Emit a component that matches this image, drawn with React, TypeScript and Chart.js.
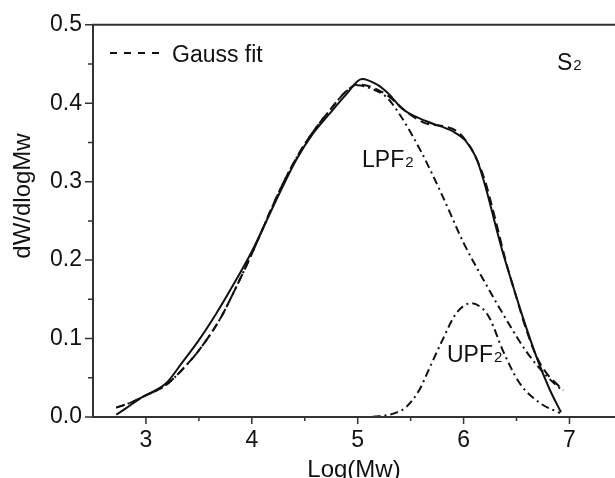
import React, { useEffect, useRef } from "react";
import { Chart, registerables } from "chart.js";

Chart.register(...registerables);

const FONT = '"Liberation Sans", Arial, Helvetica, sans-serif';
const INK = "#111";

// Experimental curve (solid)
const expX = [2.72, 2.8, 2.96, 3.19, 3.34, 3.5, 3.66, 3.81, 4.0, 4.26, 4.42, 4.57, 4.73, 4.89, 5.04, 5.18, 5.3, 5.42, 5.65, 5.9, 6.02, 6.12, 6.21, 6.31, 6.37, 6.46, 6.56, 6.69, 6.81, 6.92];
const expY = [0.003, 0.01, 0.025, 0.043, 0.069, 0.098, 0.131, 0.165, 0.211, 0.285, 0.328, 0.36, 0.386, 0.411, 0.431, 0.424, 0.411, 0.393, 0.377, 0.364, 0.352, 0.33, 0.292, 0.24, 0.21, 0.17, 0.127, 0.076, 0.036, 0.006];

// Gauss fit (dashed)
const fitX = [2.72, 2.85, 2.96, 3.19, 3.34, 3.5, 3.7, 3.85, 4.0, 4.26, 4.42, 4.57, 4.73, 4.89, 5.0, 5.1, 5.27, 5.49, 5.65, 5.8, 5.96, 6.1, 6.2, 6.3, 6.4, 6.5, 6.6, 6.7, 6.8, 6.88, 6.94];
const fitY = [0.012, 0.018, 0.025, 0.041, 0.06, 0.085, 0.125, 0.165, 0.208, 0.288, 0.33, 0.362, 0.39, 0.415, 0.424, 0.422, 0.411, 0.386, 0.374, 0.371, 0.362, 0.335, 0.302, 0.252, 0.198, 0.152, 0.108, 0.074, 0.053, 0.042, 0.034];

// LPF2 component (dash-dot)
const lpfX = [2.72, 2.85, 2.96, 3.19, 3.34, 3.5, 3.7, 3.85, 4.0, 4.26, 4.42, 4.57, 4.73, 4.89, 5.0, 5.1, 5.27, 5.4, 5.6, 5.8, 6.0, 6.2, 6.4, 6.6, 6.8, 6.94];
const lpfY = [0.012, 0.018, 0.025, 0.041, 0.06, 0.085, 0.125, 0.165, 0.208, 0.288, 0.33, 0.362, 0.39, 0.415, 0.423, 0.42, 0.408, 0.385, 0.338, 0.282, 0.222, 0.172, 0.125, 0.082, 0.05, 0.033];

// UPF2 component (dash-dot)
const upfX = [4.8, 5.0, 5.2, 5.35, 5.46, 5.58, 5.68, 5.8, 5.93, 6.07, 6.18, 6.25, 6.37, 6.53, 6.72, 6.91];
const upfY = [0.0, 0.0, 0.001, 0.005, 0.013, 0.034, 0.063, 0.098, 0.132, 0.145, 0.138, 0.125, 0.085, 0.043, 0.018, 0.005];

const xTicks = [3, 4, 5, 6, 7];
const xMinor = [3.5, 4.5, 5.5, 6.5];
const yTicks = [0, 0.1, 0.2, 0.3, 0.4, 0.5];
const yMinor = [0.05, 0.15, 0.25, 0.35, 0.45];

const xTitle = "Log(Mw)";
const yTitle = "dW/dlogMw";
const legendLabel = "Gauss fit";

const pts = (xs: number[], ys: number[]) => xs.map((x, i) => ({ x, y: ys[i] }));

const decorPlugin = {
  id: "decor",
  afterDatasetsDraw(chart: any) {
    const { ctx, chartArea, scales } = chart;
    const xs = scales.x;
    const ys = scales.y;
    const { left, top, right, bottom } = chartArea;
    ctx.save();
    // frame: left, top, bottom (right edge is cropped)
    ctx.strokeStyle = "#333";
    ctx.lineWidth = 2;
    ctx.setLineDash([]);
    ctx.beginPath();
    ctx.moveTo(right, top);
    ctx.lineTo(left, top);
    ctx.lineTo(left, bottom);
    ctx.lineTo(right, bottom);
    ctx.stroke();
    // ticks
    ctx.lineWidth = 1.5;
    ctx.beginPath();
    xTicks.forEach((v) => {
      const p = xs.getPixelForValue(v);
      ctx.moveTo(p, bottom);
      ctx.lineTo(p, bottom + 7);
    });
    xMinor.forEach((v) => {
      const p = xs.getPixelForValue(v);
      ctx.moveTo(p, bottom);
      ctx.lineTo(p, bottom + 4);
    });
    yTicks.forEach((v) => {
      const p = ys.getPixelForValue(v);
      ctx.moveTo(left, p);
      ctx.lineTo(left - 8, p);
    });
    yMinor.forEach((v) => {
      const p = ys.getPixelForValue(v);
      ctx.moveTo(left, p);
      ctx.lineTo(left - 5, p);
    });
    ctx.stroke();

    ctx.fillStyle = INK;
    // axis titles
    ctx.font = `24px ${FONT}`;
    ctx.textAlign = "center";
    ctx.textBaseline = "alphabetic";
    ctx.fillText(xTitle, (left + right) / 2, 477);
    ctx.save();
    ctx.translate(30, 196);
    ctx.rotate(-Math.PI / 2);
    ctx.fillText(yTitle, 0, 0);
    ctx.restore();

    // legend
    ctx.strokeStyle = INK;
    ctx.lineWidth = 2;
    ctx.setLineDash([7, 7]);
    ctx.beginPath();
    ctx.moveTo(110, 53);
    ctx.lineTo(166, 53);
    ctx.stroke();
    ctx.setLineDash([]);
    ctx.font = `23px ${FONT}`;
    ctx.textAlign = "left";
    ctx.fillText(legendLabel, 172, 62);

    // annotations with subscripts
    const sub = (main: string, s: string, x: number, y: number) => {
      ctx.font = `23px ${FONT}`;
      ctx.textAlign = "left";
      ctx.fillText(main, x, y);
      const w = ctx.measureText(main).width;
      ctx.font = `15px ${FONT}`;
      ctx.fillText(s, x + w + 1, y);
    };
    sub("LPF", "2", 362, 167);
    sub("UPF", "2", 447, 362);
    sub("S", "2", 557, 70);
    ctx.restore();
  },
};

export default function App() {
  const ref = useRef<HTMLCanvasElement | null>(null);
  useEffect(() => {
    if (!ref.current) return;
    const common = { pointRadius: 0, borderColor: INK, fill: false, showLine: true, cubicInterpolationMode: "monotone" as const };
    const chart = new Chart(ref.current, {
      type: "scatter",
      data: {
        datasets: [
          { label: "Experimental", data: pts(expX, expY), borderWidth: 2, ...common },
          { label: legendLabel, data: pts(fitX, fitY), borderWidth: 2, borderDash: [9, 5], ...common },
          { label: "LPF2", data: pts(lpfX, lpfY), borderWidth: 2, borderDash: [8, 4, 2, 4], ...common },
          { label: "UPF2", data: pts(upfX, upfY), borderWidth: 2, borderDash: [8, 4, 2, 4], ...common },
        ],
      },
      options: {
        animation: false,
        responsive: false,
        events: [],
        layout: { padding: { top: 23, left: 0, right: 0, bottom: 0 } },
        plugins: { legend: { display: false }, tooltip: { enabled: false }, title: { display: false } },
        scales: {
          x: {
            type: "linear",
            min: 2.5,
            max: 7.43,
            afterBuildTicks: (s: any) => { s.ticks = xTicks.map((v) => ({ value: v })); },
            afterFit: (s: any) => { s.height = 61; },
            grid: { display: false, drawTicks: false },
            border: { display: false },
            ticks: { font: { family: FONT, size: 23 }, color: INK, padding: 10, maxRotation: 0, autoSkip: false, callback: (v: any) => String(v) },
          },
          y: {
            type: "linear",
            min: 0,
            max: 0.5,
            afterBuildTicks: (s: any) => { s.ticks = yTicks.map((v) => ({ value: v })); },
            afterFit: (s: any) => { s.width = 93; },
            grid: { display: false, drawTicks: false },
            border: { display: false },
            ticks: { font: { family: FONT, size: 23 }, color: INK, padding: 11, autoSkip: false, callback: (v: any) => Number(v).toFixed(1) },
          },
        },
      },
      plugins: [decorPlugin],
    });
    return () => chart.destroy();
  }, []);
  return (
    <div style={{ position: "absolute", left: 0, top: 0, width: 615, height: 478, background: "#fff" }}>
      <canvas ref={ref} width={615} height={478} style={{ display: "block" }} />
    </div>
  );
}
